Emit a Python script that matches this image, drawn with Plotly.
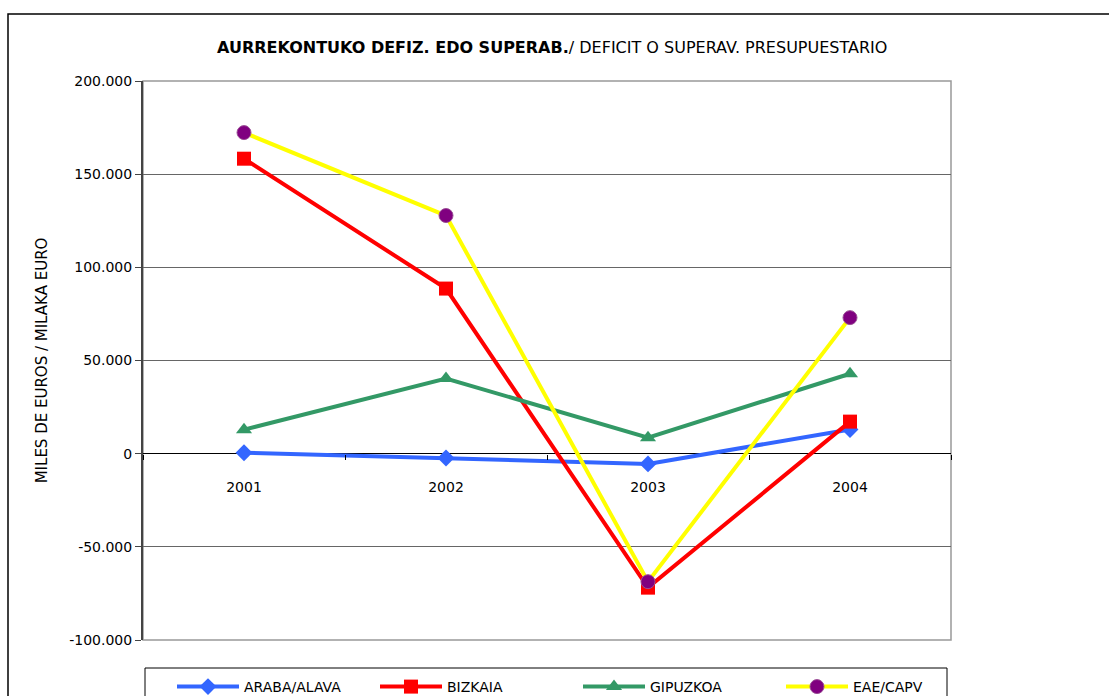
import plotly.graph_objects as go

years = ["2001", "2002", "2003", "2004"]
araba = [500, -2300, -5500, 13000]
bizkaia = [158300, 88600, -71900, 17200]
gipuzkoa = [12900, 40300, 8600, 42900]
eae = [172300, 127800, -68700, 73000]

ytick_vals = [-100000, -50000, 0, 50000, 100000, 150000, 200000]
ytick_text = ["-100.000", "-50.000", "0", "50.000", "100.000", "150.000", "200.000"]

FONT = "DejaVu Sans, Verdana, sans-serif"

W, H = 1109, 696
L, R, T, B = 143, 951, 81, 640

def px_x(x):
    return (x - L) / (R - L)

def px_y(y):
    return (B - y) / (B - T)

fig = go.Figure()

series = [
    ("ARABA/ALAVA", araba, "#3366FF", "#3366FF", "diamond", 13),
    ("BIZKAIA", bizkaia, "#FF0000", "#FF0000", "square", 14),
    ("GIPUZKOA", gipuzkoa, "#339966", "#339966", "triangle-up", 14),
    ("EAE/CAPV", eae, "#FFFF00", "#800080", "circle", 14),
]
for name, vals, lc, mc, sym, sz in series:
    fig.add_trace(go.Scatter(
        x=years, y=vals, name=name, mode="lines+markers",
        line=dict(color=lc, width=4),
        marker=dict(symbol=sym, size=sz, color=mc,
                    line=dict(width=1 if sym == "circle" else 0, color="#9B4F96")),
    ))

fig.update_layout(
    width=W, height=H,
    margin=dict(l=L, r=W - R, t=T, b=H - B, pad=0, autoexpand=False),
    paper_bgcolor="white", plot_bgcolor="white",
    font=dict(family=FONT, size=14, color="black"),
    showlegend=True,
    legend=dict(
        orientation="h", x=px_x(172), y=px_y(671), xanchor="left", yanchor="top",
        borderwidth=0, bgcolor="rgba(0,0,0,0)",
        font=dict(family=FONT, size=14, color="black"),
        entrywidth=126, itemwidth=62, tracegroupgap=0,
    ),
    xaxis=dict(
        type="category", range=[-0.5, 3.5],
        anchor="free", position=1 / 3,
        showline=False, showgrid=False, zeroline=False,
        ticks="outside", tickson="boundaries", ticklen=5, tickcolor="black",
        ticklabelstandoff=23,
        tickfont=dict(family=FONT, size=14, color="black"),
    ),
    yaxis=dict(
        range=[-100000, 200000],
        tickvals=ytick_vals, ticktext=ytick_text,
        showgrid=True, gridcolor="#666666", gridwidth=1,
        zeroline=True, zerolinecolor="black", zerolinewidth=1,
        showline=True, linecolor="#444444", linewidth=2,
        ticks="outside", ticklen=6, tickcolor="#444444",
        tickfont=dict(family=FONT, size=14, color="black"),
        title=dict(text="MILES DE EUROS / MILAKA EURO", standoff=18,
                   font=dict(family=FONT, size=15, color="black")),
    ),
    shapes=[
        dict(type="rect", xref="paper", yref="paper",
             x0=0, x1=1, y0=0, y1=1, line=dict(color="#999999", width=1.5),
             layer="below"),
        dict(type="rect", xref="paper", yref="paper",
             x0=px_x(8), x1=px_x(1125), y0=px_y(710), y1=px_y(14),
             line=dict(color="black", width=1.5), layer="below"),
        dict(type="rect", xref="paper", yref="paper",
             x0=px_x(145), x1=px_x(947), y0=px_y(710), y1=px_y(668),
             line=dict(color="black", width=1), layer="below"),
    ],
    annotations=[
        dict(text="<b>AURREKONTUKO DEFIZ. EDO SUPERAB.</b>/ DEFICIT O SUPERAV. PRESUPUESTARIO",
             xref="paper", yref="paper", x=px_x(552), y=px_y(48),
             xanchor="center", yanchor="middle", showarrow=False,
             font=dict(family=FONT, size=16, color="black")),
    ],
)

fig.write_html("out.html", config={"displayModeBar": False},
               post_script="document.body.style.margin='0';")
